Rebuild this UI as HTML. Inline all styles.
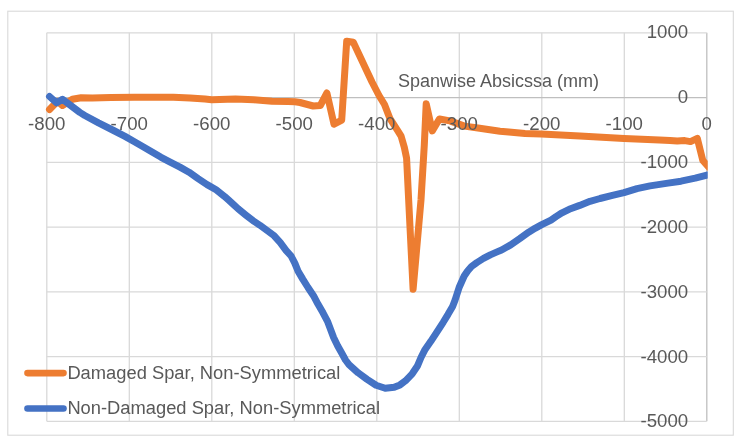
<!DOCTYPE html>
<html><head><meta charset="utf-8"><style>
html,body{margin:0;padding:0;background:#fff;}
body{width:738px;height:443px;overflow:hidden;position:relative;}
svg{position:absolute;left:0;top:0;will-change:transform;}
text{font-family:"Liberation Sans",sans-serif;fill:#595959;}
</style></head><body>
<svg width="738" height="443" viewBox="0 0 738 443">
<defs><clipPath id="c"><rect x="0" y="0" width="707.7" height="443"/></clipPath></defs>
<rect x="7.8" y="11.2" width="725.5" height="424" fill="#fff" stroke="#D9D9D9" stroke-width="1.1"/>
<line x1="46.80" y1="32.8" x2="46.80" y2="421.30" stroke="#D9D9D9" stroke-width="1.3"/><line x1="129.30" y1="32.8" x2="129.30" y2="421.30" stroke="#D9D9D9" stroke-width="1.3"/><line x1="211.80" y1="32.8" x2="211.80" y2="421.30" stroke="#D9D9D9" stroke-width="1.3"/><line x1="294.30" y1="32.8" x2="294.30" y2="421.30" stroke="#D9D9D9" stroke-width="1.3"/><line x1="376.80" y1="32.8" x2="376.80" y2="421.30" stroke="#D9D9D9" stroke-width="1.3"/><line x1="459.30" y1="32.8" x2="459.30" y2="421.30" stroke="#D9D9D9" stroke-width="1.3"/><line x1="541.80" y1="32.8" x2="541.80" y2="421.30" stroke="#D9D9D9" stroke-width="1.3"/><line x1="624.30" y1="32.8" x2="624.30" y2="421.30" stroke="#D9D9D9" stroke-width="1.3"/><line x1="706.80" y1="32.8" x2="706.80" y2="421.30" stroke="#BFBFBF" stroke-width="1.3"/><line x1="46.8" y1="32.80" x2="706.80" y2="32.80" stroke="#D9D9D9" stroke-width="1.3"/><line x1="46.8" y1="97.55" x2="706.80" y2="97.55" stroke="#BFBFBF" stroke-width="1.3"/><line x1="46.8" y1="162.30" x2="706.80" y2="162.30" stroke="#D9D9D9" stroke-width="1.3"/><line x1="46.8" y1="227.05" x2="706.80" y2="227.05" stroke="#D9D9D9" stroke-width="1.3"/><line x1="46.8" y1="291.80" x2="706.80" y2="291.80" stroke="#D9D9D9" stroke-width="1.3"/><line x1="46.8" y1="356.55" x2="706.80" y2="356.55" stroke="#D9D9D9" stroke-width="1.3"/><line x1="46.8" y1="421.30" x2="706.80" y2="421.30" stroke="#D9D9D9" stroke-width="1.3"/>
<polyline clip-path="url(#c)" points="49.5,109.5 57.5,101.3 62.5,105.5 72.4,99.3 81.1,97.7 92.3,98.0 110.9,97.6 134.5,97.3 173.4,97.3 190.0,97.9 205.0,99.1 211.7,99.8 235.5,99.0 253.8,99.8 272.0,101.2 288.0,101.6 295.0,101.8 300.0,102.5 313.2,106.0 320.3,105.5 326.9,93.0 334.0,124.3 341.7,120.1 346.7,41.2 353.3,42.2 372.0,82.0 379.0,95.5 384.5,104.5 390.0,118.7 397.2,129.8 401.1,136.1 404.3,147.2 406.6,158.3 413.1,289.3 421.0,200.0 424.3,145.0 426.2,103.8 432.3,130.9 439.4,119.0 450.0,120.9 464.4,126.1 476.3,127.8 500.0,131.3 508.8,132.1 525.0,133.4 541.3,134.0 580.0,136.1 624.0,138.6 659.4,140.1 670.0,140.4 677.3,141.0 684.7,140.6 690.5,141.6 697.3,138.4 702.8,160.5 709.0,167.5" fill="none" stroke="#ED7D31" stroke-width="7" stroke-linejoin="round" stroke-linecap="round"/>
<g font-size="17.6"><text x="646.70" y="38.20" textLength="41.50" lengthAdjust="spacingAndGlyphs">1000</text><text x="677.82" y="102.85" textLength="10.38" lengthAdjust="spacingAndGlyphs">0</text><text x="640.48" y="168.30" textLength="47.72" lengthAdjust="spacingAndGlyphs">-1000</text><text x="640.48" y="233.05" textLength="47.72" lengthAdjust="spacingAndGlyphs">-2000</text><text x="640.48" y="297.80" textLength="47.72" lengthAdjust="spacingAndGlyphs">-3000</text><text x="640.48" y="362.55" textLength="47.72" lengthAdjust="spacingAndGlyphs">-4000</text><text x="640.48" y="427.30" textLength="47.72" lengthAdjust="spacingAndGlyphs">-5000</text><text x="28.13" y="129.9" textLength="37.34" lengthAdjust="spacingAndGlyphs">-800</text><text x="110.63" y="129.9" textLength="37.34" lengthAdjust="spacingAndGlyphs">-700</text><text x="193.13" y="129.9" textLength="37.34" lengthAdjust="spacingAndGlyphs">-600</text><text x="275.63" y="129.9" textLength="37.34" lengthAdjust="spacingAndGlyphs">-500</text><text x="358.13" y="129.9" textLength="37.34" lengthAdjust="spacingAndGlyphs">-400</text><text x="440.63" y="129.9" textLength="37.34" lengthAdjust="spacingAndGlyphs">-300</text><text x="523.13" y="129.9" textLength="37.34" lengthAdjust="spacingAndGlyphs">-200</text><text x="605.63" y="129.9" textLength="37.34" lengthAdjust="spacingAndGlyphs">-100</text><text x="701.61" y="129.9" textLength="10.38" lengthAdjust="spacingAndGlyphs">0</text></g>
<text x="397.9" y="87" font-size="18" textLength="201.06" lengthAdjust="spacingAndGlyphs">Spanwise Absicssa (mm)</text>
<polyline clip-path="url(#c)" points="49.5,96.5 56.7,102.9 62.5,99.3 69.9,104.9 79.8,112.4 84.8,115.5 98.5,122.9 114.6,131.0 125.0,136.4 134.0,141.5 143.1,146.7 152.1,152.1 161.1,157.3 170.2,162.1 180.0,167.1 189.0,172.2 198.1,178.6 207.1,184.6 216.1,189.8 224.5,196.4 229.0,200.4 233.6,204.6 238.1,208.8 246.0,215.2 252.9,220.6 260.0,225.3 267.1,230.5 274.2,235.8 280.3,242.6 286.0,250.3 291.1,256.0 294.8,263.1 298.1,271.3 302.9,279.4 308.0,287.5 313.5,295.7 317.8,303.8 323.0,312.8 327.5,321.3 330.6,329.4 333.6,337.5 337.6,345.7 342.1,353.8 345.5,360.0 349.0,364.6 358.1,372.8 367.1,379.4 376.1,385.3 385.2,388.3 394.2,387.3 400.0,384.9 405.5,380.8 412.2,373.8 417.6,365.7 421.0,357.5 425.1,349.4 430.8,341.3 436.2,333.1 443.2,322.3 447.9,314.6 452.6,306.5 455.1,300.0 459.2,287.2 464.2,276.0 467.6,271.0 471.5,266.5 476.8,262.6 483.5,258.4 490.3,254.9 497.1,251.9 501.6,250.0 510.7,244.9 519.7,238.7 528.7,232.2 535.0,228.3 541.3,224.9 551.0,220.1 556.0,216.6 562.0,212.8 570.6,208.7 579.7,205.4 590.0,201.3 600.0,198.5 612.4,195.4 624.0,192.6 637.0,188.6 650.0,185.9 668.0,183.1 681.0,181.2 695.2,178.2 709.0,174.5" fill="none" stroke="#4472C4" stroke-width="7" stroke-linejoin="round" stroke-linecap="round"/>
<line x1="27.5" y1="373.1" x2="63.5" y2="373.1" stroke="#ED7D31" stroke-width="6.6" stroke-linecap="round"/>
<line x1="27.5" y1="408.5" x2="63.5" y2="408.5" stroke="#4472C4" stroke-width="6.6" stroke-linecap="round"/>
<text x="67.4" y="379.1" font-size="18" textLength="272.93" lengthAdjust="spacingAndGlyphs">Damaged Spar, Non-Symmetrical</text>
<text x="67.4" y="413.9" font-size="18" textLength="312.65" lengthAdjust="spacingAndGlyphs">Non-Damaged Spar, Non-Symmetrical</text>
</svg>
</body></html>
